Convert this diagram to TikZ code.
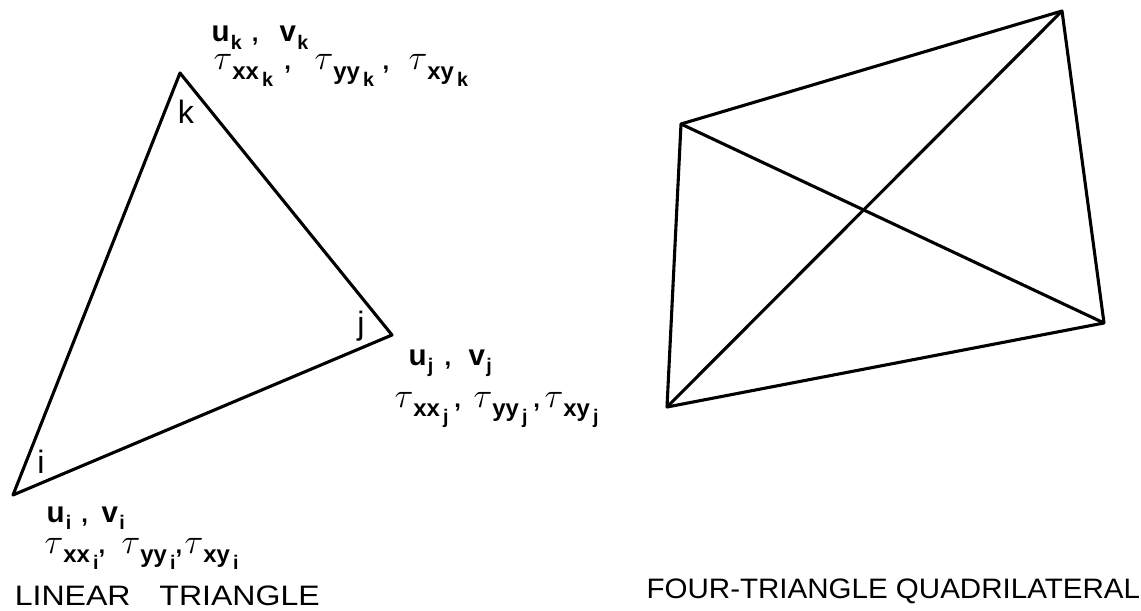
\documentclass[tikz,border=0pt]{standalone}
\usepackage{amsmath}
\usepackage{fontspec}
\setmainfont{Liberation Sans}

\newcommand{\ulab}[2]{{\fontsize{21}{21}\selectfont #1}\raisebox{-5.5pt}{\hspace{1pt}\fontsize{14}{14}\selectfont #2}}
\newcommand{\taulab}[2]{{\fontsize{25}{25}\selectfont$\tau$}\raisebox{-6.5pt}{#1}\raisebox{-12pt}{\fontsize{14}{14}\selectfont\,#2}}

\begin{document}
\begin{tikzpicture}[x=0.025cm, y=-0.025cm, line width=2.2pt, line join=round,
    lab/.style={anchor=base west, inner sep=0pt, font=\fontsize{17}{17}\selectfont\bfseries},
    corner/.style={inner sep=0pt, font=\fontsize{23}{23}\selectfont},
    caption/.style={anchor=base west, inner sep=0pt, transform shape, font=\fontsize{20}{20}\selectfont}]
    \useasboundingbox (0,0) rectangle (1141,610);

    % triangle
    \coordinate (i) at (13,495);
    \coordinate (j) at (392,335);
    \coordinate (k) at (180,73);
    \draw (i) -- (j) -- (k) -- cycle;

    \node[corner] (ki) at (186,112) {k};
    \node[corner] (ji) at (361,326) {j};
    \node[corner] (ii) at (41,462) {i};

    \node[lab] (uk) at (210,42) {\ulab{u}{k}\hspace{7pt},};
    \node[lab] (vk) at (278,42) {\ulab{v}{k}};
    \node[lab] (tkx) at (212,70) {\taulab{xx}{k}\hspace{8pt},};
    \node[lab] (tky) at (313,70) {\taulab{yy}{k}\hspace{6pt},};
    \node[lab] (tkz) at (407,70) {\taulab{xy}{k}};

    \node[lab] (uj) at (407,365) {\ulab{u}{j}\hspace{8pt},};
    \node[lab] (vj) at (467,365) {\ulab{v}{j}};
    \node[lab] (tjx) at (393,407) {\taulab{xx}{j}\hspace{4pt},};
    \node[lab] (tjy) at (472,407) {\taulab{yy}{j}\hspace{4pt},};
    \node[lab] (tjz) at (543,407) {\taulab{xy}{j}};

    \node[lab] (ui) at (45,522) {\ulab{u}{i}\hspace{7pt},};
    \node[lab] (vi) at (100,522) {\ulab{v}{i}};
    \node[lab] (tix) at (43,553) {\taulab{xx}{i},};
    \node[lab] (tiy) at (120,553) {\taulab{yy}{i},};
    \node[lab] (tiz) at (183,553) {\taulab{xy}{i}};
    \node[caption, xscale=1.14] (capt) at (13,605) {LINEAR\hspace{18pt}TRIANGLE};

    % quadrilateral
    \coordinate (a) at (681,124);
    \coordinate (b) at (1062,11);
    \coordinate (c) at (1104,323);
    \coordinate (d) at (667,407);
    \draw (a) -- (b) -- (c) -- (d) -- cycle;
    \draw (a) -- (c);
    \draw (b) -- (d);
    \node[caption, xscale=1.05] (capq) at (645,598) {FOUR-TRIANGLE QUADRILATERAL};
\end{tikzpicture}
\end{document}
